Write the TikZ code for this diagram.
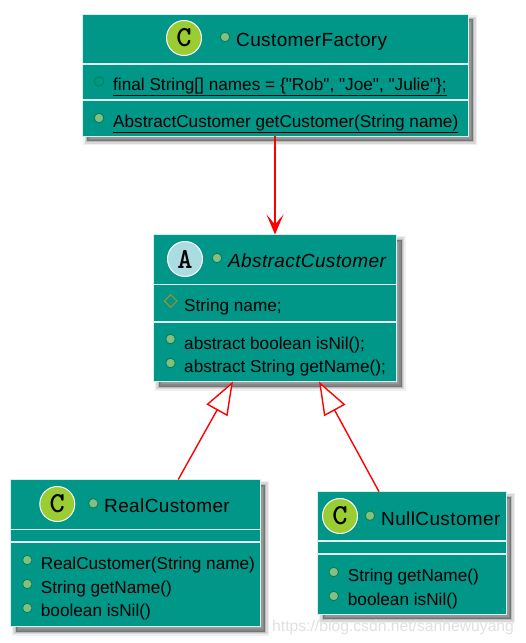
\documentclass[tikz,border=0pt]{standalone}
\usepackage{fontspec}
\newfontfamily\memberfont{Liberation Sans}
\newfontfamily\titlefont{Liberation Sans}[LetterSpace=2]
\usetikzlibrary{arrows.meta, positioning, calc, shadows, shapes.geometric}
\definecolor{boxteal}{RGB}{0,150,136}
\definecolor{boxedge}{RGB}{214,240,236}
\definecolor{dotfill}{RGB}{132,190,132}
\definecolor{dotedge}{RGB}{3,128,72}
\definecolor{protedge}{RGB}{179,141,34}
\definecolor{iconc}{RGB}{154,205,50}
\definecolor{icona}{RGB}{170,220,225}

\begin{document}
\begin{tikzpicture}[
            x=1pt, y=-1pt,
            font=\memberfont\fontsize{17.2}{20}\selectfont,
            % soft shadow out of four layers, widest first
            softshadow/.style={
                general shadow={shadow xshift=5pt, shadow yshift=-5pt, draw=black, fill=black, line width=8pt, opacity=0.06},
                general shadow={shadow xshift=5pt, shadow yshift=-5pt, draw=black, fill=black, line width=5pt, opacity=0.1},
                general shadow={shadow xshift=5pt, shadow yshift=-5pt, draw=black, fill=black, line width=2pt, opacity=0.13},
                general shadow={shadow xshift=5pt, shadow yshift=-5pt, fill=black, opacity=0.15}},
            classbox/.style={draw=boxedge, line width=1pt, fill=boxteal, anchor=north west, inner sep=0pt, outer sep=0pt, softshadow},
            sepline/.style={draw=white!90!boxteal, line width=1.8pt},
            iconC/.style={draw=white, line width=1pt, fill=iconc, circle, minimum size=35pt, inner sep=0pt, font=\ttfamily\bfseries\fontsize{29}{29}\selectfont},
            iconA/.style={draw=white, line width=1pt, fill=icona, circle, minimum size=35pt, inner sep=0pt, font=\ttfamily\bfseries\fontsize{29}{29}\selectfont},
            pubdot/.style={draw=dotedge, line width=0.8pt, fill=dotfill, circle, minimum size=9.5pt, inner sep=0pt},
            pubopen/.style={draw=dotedge, line width=0.8pt, circle, minimum size=9.5pt, inner sep=0pt},
            protdia/.style={draw=protedge, line width=1pt, diamond, minimum size=13pt, inner sep=0pt},
            title/.style={anchor=base west, inner sep=0pt, font=\titlefont\fontsize{19}{22}\selectfont},
            member/.style={anchor=base west, inner sep=0pt},
            depends/.style={draw=red, line width=1.4pt, -{Stealth[red, length=20pt, width=17pt, inset=10pt]}},
            extends/.style={draw=red, line width=1.4pt, -{Triangle[open, length=33pt, width=24pt, fill=white]}}
        ]
        \useasboundingbox (0,0) rectangle (526,643);

        %% ===== CustomerFactory =====
        \node[classbox, minimum width=386pt, minimum height=122pt] (factory) at (82,14) {};
        \draw[sepline] (factory.west |- 0,64) -- (factory.east |- 0,64);
        \draw[sepline] (factory.west |- 0,100) -- (factory.east |- 0,100);
        \node[iconC] (factoryicon) at (184,38) {C};
        \node[pubdot] (factorydot) at (225,37) {};
        \node[title] (factoryname) at (236,46.7) {CustomerFactory};
        \node[pubopen] (namesdot) at (99,81.5) {};
        \node[member] (namesfield) at (113,90.7) {\underline{final String[] names = \{"Rob", "Joe", "Julie"\};}};
        \node[pubdot] (getdot) at (99,118) {};
        \node[member] (getmethod) at (113,127.3) {\underline{AbstractCustomer getCustomer(String name)}};

        %% ===== AbstractCustomer =====
        \node[classbox, minimum width=243pt, minimum height=147pt] (abstract) at (153.5,234.5) {};
        \draw[sepline] (abstract.west |- 0,284.5) -- (abstract.east |- 0,284.5);
        \draw[sepline] (abstract.west |- 0,321.7) -- (abstract.east |- 0,321.7);
        \node[iconA] (abstracticon) at (185,259) {A};
        \node[pubdot] (abstractdot) at (217,258) {};
        \node[title, font=\titlefont\itshape\fontsize{19}{22}\selectfont] (abstractname) at (228,267.7) {AbstractCustomer};
        \node[protdia] (namedia) at (170.7,301) {};
        \node[member] (namefield) at (184,311.7) {String name;};
        \node[pubdot] (isnildot) at (170.5,339) {};
        \node[member] (isnilabs) at (184,349) {abstract boolean isNil();};
        \node[pubdot] (getnamedot) at (170.5,363) {};
        \node[member] (getnameabs) at (184,372.3) {abstract String getName();};

        %% ===== RealCustomer =====
        \node[classbox, minimum width=249.5pt, minimum height=147pt] (realcust) at (10.5,479.5) {};
        \draw[sepline] (realcust.west |- 0,529.5) -- (realcust.east |- 0,529.5);
        \draw[sepline] (realcust.west |- 0,542.3) -- (realcust.east |- 0,542.3);
        \node[iconC] (realicon) at (57.3,504) {C};
        \node[pubdot] (realdot) at (93.3,503.3) {};
        \node[title] (realname) at (104,512.7) {RealCustomer};
        \node[pubdot] (rctordot) at (27.3,560) {};
        \node[member] (rctor) at (40.7,569) {RealCustomer(String name)};
        \node[pubdot] (rgetdot) at (27.3,584) {};
        \node[member] (rget) at (40.7,593) {String getName()};
        \node[pubdot] (rnildot) at (27.3,608) {};
        \node[member] (rnil) at (40.7,616.7) {boolean isNil()};

        %% ===== NullCustomer =====
        \node[classbox, minimum width=188.5pt, minimum height=122.6pt] (nullcust) at (317.5,491.7) {};
        \draw[sepline] (nullcust.west |- 0,541) -- (nullcust.east |- 0,541);
        \draw[sepline] (nullcust.west |- 0,554.3) -- (nullcust.east |- 0,554.3);
        \node[iconC] (nullicon) at (340,516) {C};
        \node[pubdot] (nulldot) at (370,515.7) {};
        \node[title] (nullname) at (381,525) {NullCustomer};
        \node[pubdot] (ngetdot) at (333.7,572) {};
        \node[member] (nget) at (347.7,581) {String getName()};
        \node[pubdot] (nnildot) at (333.7,596) {};
        \node[member] (nnil) at (347.7,605) {boolean isNil()};

        %% ===== connectors =====
        \draw[depends] (factory.south) -- (abstract.north);
        \draw[extends] ([xshift=43pt]realcust.north) -- ([xshift=-42pt]abstract.south);
        \draw[extends] ([xshift=-32.7pt]nullcust.north) -- ([xshift=44pt]abstract.south);

        \node[member, text=black!12, font=\memberfont\fontsize{15.7}{18}\selectfont] (watermark) at (272,631) {https://blog.csdn.net/sanhewuyang};
    \end{tikzpicture}
\end{document}
